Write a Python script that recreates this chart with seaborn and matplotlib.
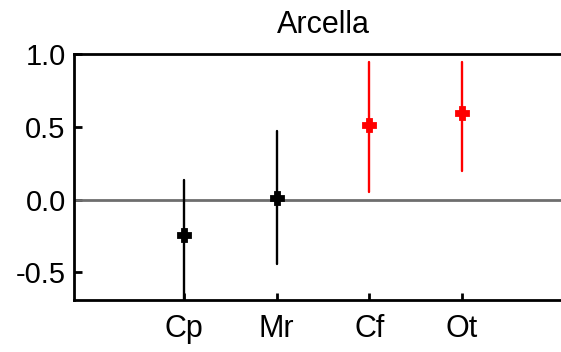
import numpy as np
import pandas as pd
import matplotlib
matplotlib.use("Agg")
import matplotlib.pyplot as plt
import seaborn as sns

# Effect estimates with their interval bounds per taxon
groups = ["Cp", "Mr", "Cf", "Ot"]
estimate = [-0.245, 0.01, 0.51, 0.595]
lower = [-0.78, -0.445, 0.05, 0.195]
upper = [0.135, 0.47, 0.945, 0.945]
significant = [False, False, True, True]
title = "Arcella"
yticks = [-0.5, 0.0, 0.5, 1.0]
ytick_labels = ["-0.5", "0.0", "0.5", "1.0"]

rows = []
for g, lo, est, hi, sig in zip(groups, lower, estimate, upper, significant):
    for v in (lo, est, hi):
        rows.append({"group": g, "value": v, "sig": "yes" if sig else "no"})
df = pd.DataFrame(rows)

sns.set_theme(style="white")
plt.rcParams["font.family"] = ["Liberation Sans", "DejaVu Sans"]
plt.rcParams["text.color"] = "black"
plt.rcParams["xtick.color"] = "black"
plt.rcParams["ytick.color"] = "black"
plt.rcParams["xtick.labelcolor"] = "black"
plt.rcParams["ytick.labelcolor"] = "black"

fig = plt.figure(figsize=(5.61, 3.52), dpi=100)
ax = fig.add_axes([74 / 561, 1 - 300 / 352, (572 - 74) / 561, (300 - 54) / 352])

ax.axhline(0.0, color="#6e6e6e", linewidth=2.0, zorder=1)

sns.pointplot(
    data=df, x="group", y="value", hue="sig", order=groups,
    palette={"no": "black", "yes": "#ff0000"},
    estimator="median", errorbar=("pi", 100),
    linestyle="none", markers="P", markersize=8, dodge=False,
    err_kws={"linewidth": 1.7}, legend=False, ax=ax, zorder=3,
)

ax.set_xlim(-1.19, 4.19)
ax.set_ylim(-0.69, 1.0)
ax.set_yticks(yticks)
ax.set_yticklabels(ytick_labels)
ax.set_xlabel("")
ax.set_ylabel("")
ax.set_title(title, fontsize=22, pad=15, color="black")

for side in ["left", "top", "bottom"]:
    ax.spines[side].set_color("black")
    ax.spines[side].set_linewidth(2.0)
ax.spines["right"].set_visible(False)

ax.tick_params(axis="y", direction="in", length=6, width=2.0, color="black",
               labelcolor="black", labelsize=21, pad=6, left=True)
ax.tick_params(axis="x", direction="in", length=5, width=2.0, color="black",
               labelcolor="black", labelsize=22, pad=10, bottom=True)

fig.savefig("out.png", dpi=100)
